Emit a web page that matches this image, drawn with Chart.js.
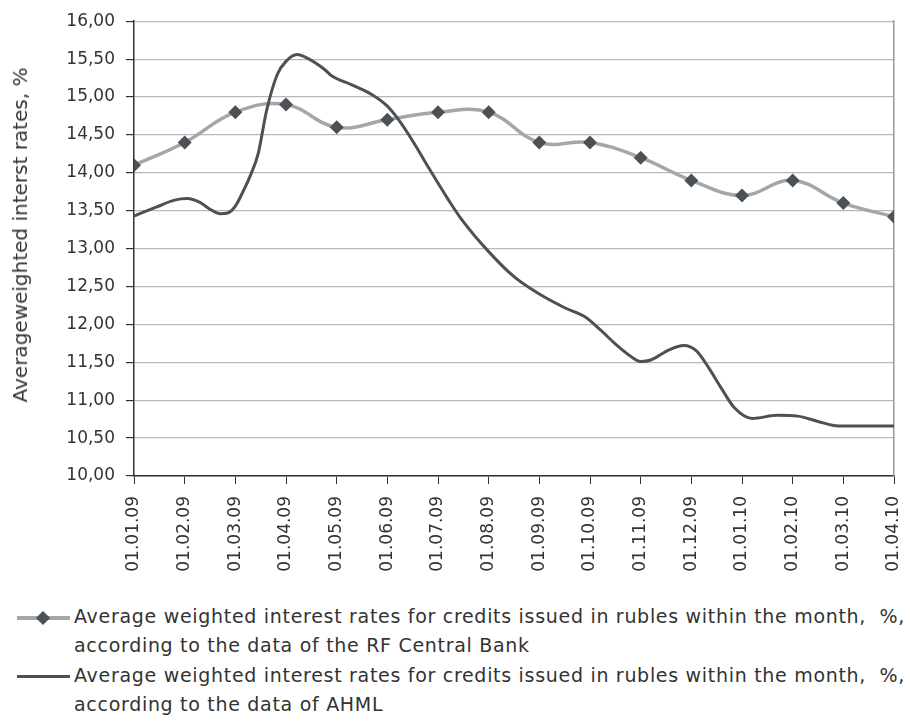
<!DOCTYPE html>
<html>
<head>
<meta charset="utf-8">
<script src="https://cdn.jsdelivr.net/npm/chart.js@4/dist/chart.umd.min.js"></script>
<style>
  body { margin: 0; background: #fff; font-family: "DejaVu Sans", sans-serif; color: #333; }
  #wrap { position: relative; width: 910px; height: 722px; }
  #chart-box { position: absolute; left: 0; top: 0; width: 910px; height: 600px; }
  #y-title { position: absolute; left: 20px; top: 235px; font-size: 20px; white-space: nowrap;
             transform: translate(-50%, -50%) rotate(-90deg); }
  .legend { position: absolute; left: 0; font-size: 19px; line-height: 29px; letter-spacing: 0.7px; }
  .legend .sym { position: absolute; left: 17px; top: 14px; width: 53px; height: 4px; }
  .legend .sym .diamond { position: absolute; left: 21px; top: -3px; width: 10px; height: 10px; background: #4a5258; transform: rotate(45deg); }
  .legend .txt { position: absolute; left: 74px; top: 0; white-space: nowrap; }
</style>
</head>
<body>
<div id="wrap">
  <div id="chart-box"><canvas id="rates-chart"></canvas></div>
  <div id="y-title">Averageweighted interst rates, %</div>
  <div class="legend" style="top: 602px;">
    <div class="sym" style="background: #a6a6a6;"><div class="diamond"></div></div>
    <div class="txt">Average weighted interest rates for credits issued in rubles within the month,&nbsp; %,<br>according to the data of the RF Central Bank</div>
  </div>
  <div class="legend" style="top: 661px;">
    <div class="sym" style="background: #4a5258; height: 3px;"></div>
    <div class="txt">Average weighted interest rates for credits issued in rubles within the month,&nbsp; %,<br>according to the data of AHML</div>
  </div>
</div>
<script>
/* Month labels on the x axis */
let dates = ['01.01.09', '01.02.09', '01.03.09', '01.04.09', '01.05.09', '01.06.09', '01.07.09', '01.08.09',
             '01.09.09', '01.10.09', '01.11.09', '01.12.09', '01.01.10', '01.02.10', '01.03.10', '01.04.10']

/* RF Central Bank, one value per month */
let cbrRates = [14.10, 14.40, 14.80, 14.90, 14.60, 14.70, 14.80, 14.80, 14.40, 14.40, 14.20, 13.90, 13.70, 13.90, 13.60, 13.42]

/* AHML series is sampled more often: position in months from 01.01.09, and the rate */
let ahmlMonth = [0, 0.45, 0.8, 1.05, 1.3, 1.5, 1.7, 1.85, 2.0, 2.15, 2.3, 2.45, 2.62, 2.83, 3.0, 3.22, 3.4, 3.75, 3.9,
                 4.3, 4.7, 5.0, 5.2, 5.5, 5.84, 6.2, 6.45, 7.0, 7.5, 8.0, 8.5, 8.9, 9.2, 9.52, 9.8, 10.0, 10.2,
                 10.55, 10.85, 11.1, 11.35, 11.6, 11.85, 12.2, 12.7, 13.1, 13.5, 13.9, 15.0]
let ahmlRate = [13.43, 13.55, 13.64, 13.66, 13.61, 13.52, 13.46, 13.47, 13.56, 13.75, 13.97, 14.25, 14.83, 15.30, 15.47, 15.56, 15.52, 15.37, 15.28,
                15.16, 15.03, 14.88, 14.72, 14.42, 14.04, 13.65, 13.40, 12.96, 12.63, 12.40, 12.22, 12.10, 11.93, 11.73, 11.58, 11.51, 11.53,
                11.66, 11.72, 11.65, 11.42, 11.15, 10.90, 10.76, 10.80, 10.79, 10.72, 10.66, 10.66]

let yTicks = [10, 10.5, 11, 11.5, 12, 12.5, 13, 13.5, 14, 14.5, 15, 15.5, 16]

let tickFont = { family: 'DejaVu Sans', size: 17 }

let ctx = document.querySelector('#rates-chart').getContext('2d')

let ratesChart = new Chart(ctx, {
    type: 'line',
    data: {
        datasets: [
            {
                label: 'RF Central Bank',
                data: cbrRates.map((v, i) => ({ x: i, y: v })),
                borderColor: '#a6a6a6',
                borderWidth: 3.5,
                tension: 0.4,
                pointStyle: 'rectRot',
                pointRadius: 7,
                pointBackgroundColor: '#4a5258',
                pointBorderColor: '#4a5258',
                pointBorderWidth: 0,
                order: 2
            },
            {
                label: 'AHML',
                data: ahmlMonth.map((m, i) => ({ x: m, y: ahmlRate[i] })),
                borderColor: '#4a5258',
                borderWidth: 3,
                cubicInterpolationMode: 'monotone',
                pointRadius: 0,
                order: 1
            }
        ]
    },
    options: {
        responsive: true,
        maintainAspectRatio: false,
        animation: false,
        layout: { padding: { left: 0, top: 21, right: 16, bottom: 0 } },
        plugins: {
            legend: { display: false },
            tooltip: { enabled: false }
        },
        scales: {
            x: {
                type: 'linear',
                min: 0,
                max: 15,
                afterBuildTicks: function(scale) {
                    scale.ticks = dates.map((d, i) => ({ value: i }))
                },
                ticks: {
                    autoSkip: false,
                    maxRotation: 90,
                    minRotation: 90,
                    padding: 12,
                    color: '#333',
                    font: tickFont,
                    callback: function(value) { return dates[value] }
                },
                grid: {
                    drawOnChartArea: false,
                    drawTicks: true,
                    tickLength: 8,
                    tickColor: '#333'
                },
                border: { color: '#333', width: 1.5 },
                afterFit: function(scale) {
                    scale.height = 124
                    // rotated labels ask for extra side room, the plot should reach the right edge
                    scale.paddingLeft = 0
                    scale.paddingRight = 0
                }
            },
            y: {
                min: 10,
                max: 16,
                afterBuildTicks: function(scale) {
                    scale.ticks = yTicks.map(v => ({ value: v }))
                },
                ticks: {
                    padding: 11,
                    color: '#333',
                    font: tickFont,
                    callback: function(value) { return value.toFixed(2).replace('.', ',') }
                },
                grid: {
                    color: '#b8b8bc',
                    lineWidth: 1.2,
                    tickLength: 8,
                    tickColor: '#333'
                },
                border: { color: '#333', width: 1.5 },
                afterFit: function(scale) { scale.width = 134 }
            },
            yRight: {
                position: 'right',
                min: 10,
                max: 16,
                ticks: { display: false },
                grid: { drawOnChartArea: false, drawTicks: false },
                border: { color: '#9a9a9a', width: 1.5 },
                afterFit: function(scale) { scale.width = 0 }
            }
        }
    }
})
</script>
</body>
</html>
